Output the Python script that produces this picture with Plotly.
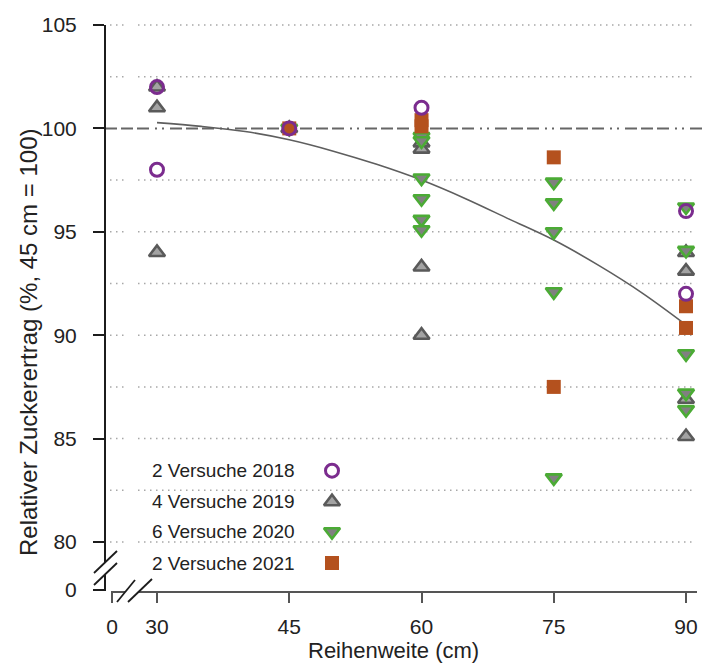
import plotly.graph_objects as go

# ---------------- data ----------------
reihenweite_2018 = [30, 30, 45, 60, 90, 90]
ertrag_2018 = [102.0, 98.0, 100.0, 101.0, 96.0, 92.0]

reihenweite_2019 = [30, 30, 30, 45, 60, 60, 60, 60, 90, 90, 90, 90]
ertrag_2019 = [102.0, 101.0, 94.0, 100.0, 99.3, 99.0, 93.3, 90.0, 94.0, 93.1, 86.9, 85.1]

reihenweite_2020 = [45, 60, 60, 60, 60, 60, 60, 75, 75, 75, 75, 75, 90, 90, 90, 90, 90]
ertrag_2020 = [100.0, 99.6, 99.4, 97.6, 96.6, 95.6, 95.1,
               97.4, 96.4, 95.0, 92.1, 83.1,
               96.2, 94.1, 89.1, 87.2, 86.4]

reihenweite_2021 = [45, 60, 60, 75, 75, 90, 90]
ertrag_2021 = [100.0, 100.4, 100.1, 98.6, 87.5, 91.4, 90.35]

kurve_x = [30, 35, 40, 45, 50, 55, 60, 65, 70, 75, 80, 85, 90]
kurve_y = [100.28, 100.1, 99.85, 99.45, 98.9, 98.25, 97.5, 96.6, 95.6, 94.6, 93.4, 92.05, 90.5]

legend_texte = ["2 Versuche 2018", "4 Versuche 2019", "6 Versuche 2020", "2 Versuche 2021"]

x_tick_werte = [30, 45, 60, 75, 90]
x_tick_texte = ["30", "45", "60", "75", "90"]
y_tick_werte = [80, 85, 90, 95, 100, 105]
y_tick_texte = ["80", "85", "90", "95", "100", "105"]
grid_werte = [80, 82.5, 85, 87.5, 90, 92.5, 95, 97.5, 102.5, 105]
referenz_wert = 100

# broken-axis positions of the "0" labels
x_null_pos = 24.9
y_null_pos = 77.68

# ---------------- styles ----------------
FONT = "Liberation Sans, Arial, Helvetica, sans-serif"
PURPLE = "#7B2C8E"
GRAY_DARK = "#5a5a5a"
GRAY_FILL = "#a3a3a3"
GREEN = "#4bab35"
GREEN_FILL = "#808080"
ORANGE = "#b4511e"

# plot area in px: left 105, right 702, top 20, bottom 592
W, H = 702, 664
L, R, T, B = 105, 0, 20, 72
pw, ph = W - L - R, H - T - B


def px(xp):
    return (xp - L) / pw


def py(yp):
    return (H - B - yp) / ph


fig = go.Figure()

# regression curve
fig.add_trace(go.Scatter(x=kurve_x, y=kurve_y, mode="lines",
                         line=dict(color="#5e5e5e", width=1.6, shape="spline"),
                         showlegend=False, hoverinfo="skip"))

sty_2019 = dict(symbol="triangle-up", size=14, color=GRAY_FILL, line=dict(color=GRAY_DARK, width=2.6))
sty_2020 = dict(symbol="triangle-down", size=14, color=GREEN_FILL, line=dict(color=GREEN, width=2.6))
sty_2021 = dict(symbol="square", size=14, color=ORANGE, line=dict(width=0))
sty_2018 = dict(symbol="circle-open", size=13, color=PURPLE, line=dict(color=PURPLE, width=3))

fig.add_trace(go.Scatter(x=reihenweite_2019, y=ertrag_2019, mode="markers", marker=sty_2019,
                         name=legend_texte[1], showlegend=False))
fig.add_trace(go.Scatter(x=reihenweite_2020, y=ertrag_2020, mode="markers", marker=sty_2020,
                         name=legend_texte[2], showlegend=False))
fig.add_trace(go.Scatter(x=reihenweite_2021, y=ertrag_2021, mode="markers", marker=sty_2021,
                         name=legend_texte[3], showlegend=False))
fig.add_trace(go.Scatter(x=reihenweite_2018, y=ertrag_2018, mode="markers", marker=sty_2018,
                         name=legend_texte[0], showlegend=False))

# custom legend (text left, symbol right) on an overlay paper-like axis
leg_y_px = [470.7, 501.7, 531.7, 563.0]
leg_styles = [sty_2018, sty_2019, sty_2020, sty_2021]
for txt, yp, sty in zip(legend_texte, leg_y_px, leg_styles):
    fig.add_trace(go.Scatter(x=[px(332)], y=[py(yp)], mode="markers", marker=sty,
                             xaxis="x2", yaxis="y2", showlegend=False, hoverinfo="skip"))
    fig.add_annotation(text=txt, xref="paper", yref="paper", x=px(150), y=py(yp),
                       xanchor="left", yanchor="middle", showarrow=False,
                       font=dict(family=FONT, size=19, color="#222222"))

shapes = []
# dotted grid lines (with small gap near the axis)
for g in grid_werte:
    for x0, x1 in [(110, 125), (138, 693)]:
        shapes.append(dict(type="line", xref="paper", yref="y", x0=px(x0), x1=px(x1), y0=g, y1=g,
                           line=dict(color="#a8a8a8", width=1.5, dash="1.5px,4.5px"), layer="below"))
# dashed reference line at 100
shapes.append(dict(type="line", xref="paper", yref="y", x0=0, x1=1, y0=referenz_wert, y1=referenz_wert,
                   line=dict(color="#666666", width=2,
                             dash="12px,4px,12px,4px,12px,6px,2px,5px,2px,6px"), layer="below"))

# y axis line (broken)
AX_Y = "#1c1c1c"
AX_X = "#555555"
shapes.append(dict(type="line", xref="paper", yref="paper", x0=0, x1=0, y0=py(25), y1=py(562),
                   line=dict(color=AX_Y, width=2)))
shapes.append(dict(type="line", xref="paper", yref="paper", x0=0, x1=0, y0=py(575), y1=py(591),
                   line=dict(color=AX_Y, width=2)))
for (x0, y0, x1, y1) in [(94, 573, 117, 551), (94, 585, 117, 563)]:
    shapes.append(dict(type="line", xref="paper", yref="paper", x0=px(x0), y0=py(y0), x1=px(x1), y1=py(y1),
                       line=dict(color=AX_Y, width=1.8)))
# x axis line (broken)
shapes.append(dict(type="line", xref="paper", yref="paper", x0=px(111), x1=px(125), y0=py(592), y1=py(592),
                   line=dict(color=AX_X, width=2)))
shapes.append(dict(type="line", xref="paper", yref="paper", x0=px(139), x1=px(697), y0=py(592), y1=py(592),
                   line=dict(color=AX_X, width=2)))
for (x0, y0, x1, y1) in [(117, 602, 135, 580), (128, 602, 152, 579)]:
    shapes.append(dict(type="line", xref="paper", yref="paper", x0=px(x0), y0=py(y0), x1=px(x1), y1=py(y1),
                       line=dict(color=AX_Y, width=1.8)))

fig.update_layout(shapes=shapes)

# axis titles
fig.add_annotation(text="Reihenweite (cm)", xref="paper", yref="paper", x=px(393), y=py(650),
                   xanchor="center", yanchor="middle", showarrow=False,
                   font=dict(family=FONT, size=22, color="#222222"))
fig.add_annotation(text="Relativer Zuckerertrag (%, 45 cm = 100)", xref="paper", yref="paper",
                   x=px(28), y=py(342), xanchor="center", yanchor="middle", textangle=-90,
                   showarrow=False, font=dict(family=FONT, size=24, color="#222222"))

x_range = [30 - 52 / 8.817, 30 + (702 - 157) / 8.817]
y_range = [80 - 50 / 20.68, 105 + 5 / 20.68]

fig.update_layout(
    width=W, height=H,
    margin=dict(l=L, r=R, t=T, b=B, pad=0),
    paper_bgcolor="white", plot_bgcolor="white",
    showlegend=False,
    font=dict(family=FONT, size=21, color="#222222"),
    xaxis=dict(range=x_range, showgrid=False, zeroline=False, showline=False,
               tickvals=[x_null_pos] + x_tick_werte, ticktext=["0"] + x_tick_texte,
               ticks="outside", ticklen=10, tickwidth=2, tickcolor=AX_X,
               ticklabelstandoff=6, tickfont=dict(family=FONT, size=21, color="#222222"),
               fixedrange=True),
    yaxis=dict(range=y_range, showgrid=False, zeroline=False, showline=False,
               tickvals=[y_null_pos] + y_tick_werte, ticktext=["0"] + y_tick_texte,
               ticks="outside", ticklen=11, tickwidth=2, tickcolor=AX_Y,
               ticklabelstandoff=12, tickfont=dict(family=FONT, size=21, color="#222222"),
               fixedrange=True),
    xaxis2=dict(range=[0, 1], overlaying="x", visible=False, fixedrange=True),
    yaxis2=dict(range=[0, 1], overlaying="y", visible=False, fixedrange=True),
)

fig.write_html("out.html")
